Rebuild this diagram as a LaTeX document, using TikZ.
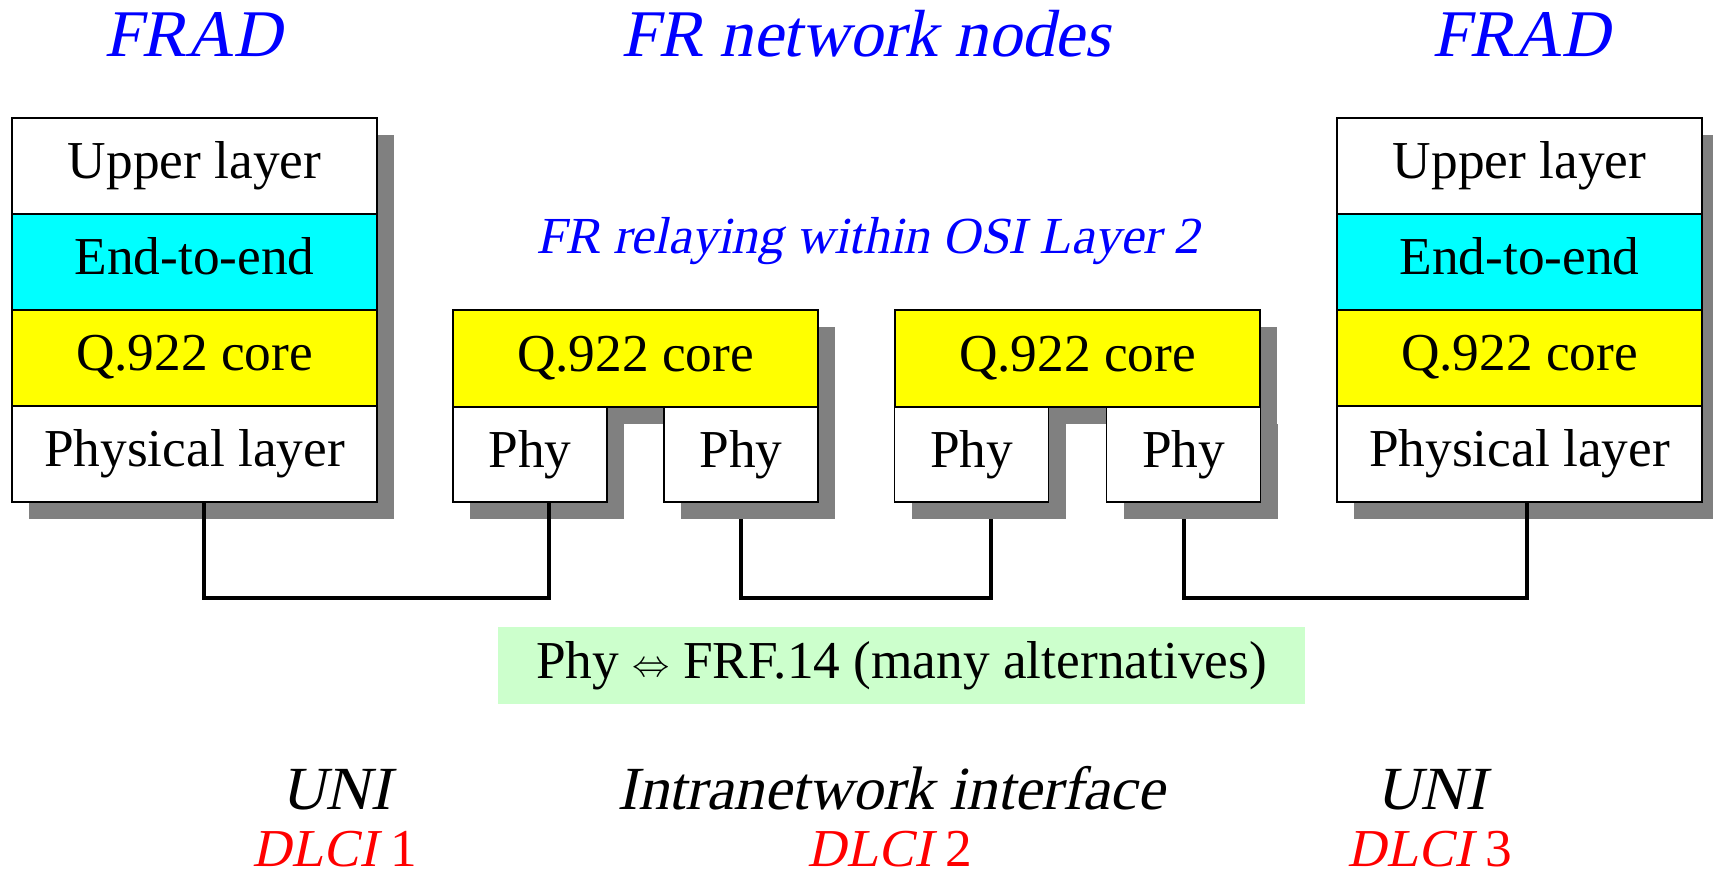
\documentclass[tikz,border=0pt]{standalone}
\usepackage{fontspec}
\setmainfont{Liberation Serif}
\newfontfamily\slfont{Liberation Serif}[FakeSlant=0.21]
\usetikzlibrary{shadows}
\definecolor{frblue}{RGB}{0,0,255}
\definecolor{frcyan}{RGB}{0,255,255}
\definecolor{fryellow}{RGB}{255,255,0}
\definecolor{frred}{RGB}{255,0,0}
\definecolor{frgreen}{RGB}{204,255,204}
\definecolor{shadowgray}{RGB}{128,128,128}
\tikzset{
  shad/.style={drop shadow={shadow xshift=12.75pt, shadow yshift=-12.75pt, fill=shadowgray, opacity=1}},
  layerbox/.style={draw=black, line width=0.9pt, shad, inner sep=0pt, outer sep=0pt,
    font=\fontsize{40}{48}\selectfont, text height=28pt, text depth=9pt},
  stackrow/.style={layerbox, minimum width=273.75pt, minimum height=72pt},
  corebox/.style={layerbox, fill=fryellow, minimum width=273.75pt, minimum height=72.75pt},
  phybox/.style={layerbox, fill=white, minimum width=115.5pt, minimum height=71.25pt},
  title/.style={text=frblue, font=\fontsize{50}{60}\selectfont\slfont, anchor=base, inner sep=0pt},
  subtitle/.style={text=frblue, font=\fontsize{39}{46}\selectfont\slfont, anchor=base, inner sep=0pt},
  iface/.style={font=\fontsize{46}{54}\selectfont\slfont, anchor=base, inner sep=0pt},
  dlci/.style={text=frred, font=\fontsize{40}{48}\selectfont, anchor=base, inner sep=0pt},
  conn/.style={draw=black, line width=3pt},
  notebox/.style={fill=frgreen, minimum width=605.25pt, minimum height=57.75pt, inner sep=0pt,
    font=\fontsize{40}{48}\selectfont, text height=28pt, text depth=9pt}
}
\begin{document}
\begin{tikzpicture}[x=0.75pt,y=-0.75pt]
\useasboundingbox (0,0) rectangle (1713,879);

% titles
\node[title] (tL) at (193,56) {FRAD};
\node[title] (tM) at (866,56) {FR network nodes};
\node[title] (tR) at (1521,56) {FRAD};
\node[subtitle] (sub) at (868,253) {FR relaying within OSI Layer 2};

% left FRAD stack
\node[stackrow, fill=white] (L1) at (194.5,166) {Upper layer};
\node[stackrow, fill=frcyan] (L2) at (194.5,262) {End-to-end};
\node[stackrow, fill=fryellow] (L3) at (194.5,358) {Q.922 core};
\node[stackrow, fill=white] (L4) at (194.5,454) {Physical layer};

% right FRAD stack
\node[stackrow, fill=white] (R1) at (1519.5,166) {Upper layer};
\node[stackrow, fill=frcyan] (R2) at (1519.5,262) {End-to-end};
\node[stackrow, fill=fryellow] (R3) at (1519.5,358) {Q.922 core};
\node[stackrow, fill=white] (R4) at (1519.5,454) {Physical layer};

% network node 1
\node[corebox] (Q1) at (635.5,358.5) {Q.922 core};
\node[phybox] (PA) at (530,454.5) {Phy};
\node[phybox] (PB) at (741,454.5) {Phy};

% network node 2
\node[corebox] (Q2) at (1077.5,358.5) {Q.922 core};
\node[phybox] (PC) at (971.5,454.5) {Phy};
\node[phybox] (PD) at (1183.5,454.5) {Phy};

% connectors
\coordinate (bus) at (0,598);
\draw[conn] ([xshift=6.75pt]L4.south) -- ([xshift=6.75pt]L4.south |- bus) -| ([xshift=14.25pt]PA.south);
\draw[conn] ([yshift=-12.75pt]PB.south) -- (PB.south |- bus) -| ([xshift=14.6pt,yshift=-12.75pt]PC.south);
\draw[conn] ([yshift=-12.75pt]PD.south) -- (PD.south |- bus) -| ([xshift=5.6pt]R4.south);

% note
\node[notebox] (note) at (901.5,665.5) {Phy \raisebox{1pt}{\resizebox{28pt}{!}{$\Leftrightarrow$}} FRF.14 (many alternatives)};

% interfaces
\node[iface] (u1) at (336,809) {UNI};
\node[iface] (ii) at (891,809) {Intranetwork interface};
\node[iface] (u2) at (1431,809) {UNI};
\node[dlci] (d1) at (335,866) {{\slfont DLCI} 1};
\node[dlci] (d2) at (890,866) {{\slfont DLCI} 2};
\node[dlci] (d3) at (1430,866) {{\slfont DLCI} 3};
\end{tikzpicture}
\end{document}
